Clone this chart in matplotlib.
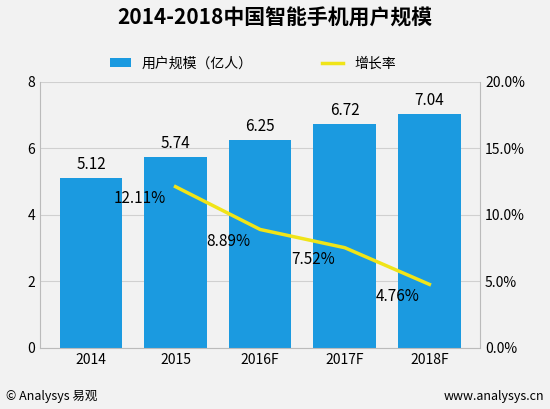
import matplotlib
matplotlib.use("Agg")
import matplotlib.pyplot as plt

plt.rcParams['font.family'] = ['Noto Sans CJK SC', 'DejaVu Sans']

years = ["2014", "2015", "2016F", "2017F", "2018F"]
users = [5.12, 5.74, 6.25, 6.72, 7.04]
growth_years = ["2015", "2016F", "2017F", "2018F"]
growth = [12.11, 8.89, 7.52, 4.76]

bg = "#f2f2f2"
fig = plt.figure(figsize=(5.5, 4.09), dpi=100, facecolor=bg)
ax = fig.add_axes([0.073, 0.15, 0.80, 0.65], facecolor=bg)
x = list(range(len(years)))
bars = ax.bar(x, users, width=0.74, color="#1b9ae0", label="用户规模（亿人）", zorder=2)
for xi, v in zip(x, users):
    ax.text(xi, v + 0.15, f"{v:.2f}", ha="center", va="bottom", fontsize=11)
ax.set_ylim(0, 8)
ax.set_yticks([0, 2, 4, 6, 8])
ax.set_xlim(-0.6, 4.6)
ax.set_xticks(x)
ax.set_xticklabels(years, fontsize=10)
ax.tick_params(axis="y", labelsize=10, length=0)
ax.tick_params(axis="x", length=0)
ax.grid(axis="y", color="#d0d0d0", lw=0.8, zorder=0)
ax.spines["top"].set_visible(False)
for s in ["left", "right", "bottom"]:
    ax.spines[s].set_color("#bbbbbb")

ax2 = ax.twinx()
gx = [years.index(y) for y in growth_years]
line, = ax2.plot(gx, growth, color="#f0e418", lw=2.5, label="增长率", zorder=3)
ax2.set_ylim(0, 20)
ax2.set_yticks([0, 5, 10, 15, 20])
ax2.set_yticklabels([f"{t:.1f}%" for t in [0, 5, 10, 15, 20]], fontsize=10)
ax2.tick_params(axis="y", length=0)
for s in ["top", "left", "right", "bottom"]:
    ax2.spines[s].set_visible(False)
for xi, v in zip(gx, growth):
    ax2.text(xi - 0.12, v - 0.9, f"{v:.2f}%", ha="right", va="center", fontsize=11)

fig.text(0.5, 0.955, "2014-2018中国智能手机用户规模", ha="center", va="center",
         fontsize=15, fontweight="bold")
fig.legend([bars, line], ["用户规模（亿人）", "增长率"], loc="center",
           bbox_to_anchor=(0.46, 0.845), ncol=2, frameon=False, fontsize=10,
           handlelength=1.5, columnspacing=5)
fig.text(0.01, 0.03, "© Analysys 易观", fontsize=9, va="center")
fig.text(0.99, 0.03, "www.analysys.cn", fontsize=9, va="center", ha="right")
fig.savefig("out.png", dpi=100, facecolor=bg)
